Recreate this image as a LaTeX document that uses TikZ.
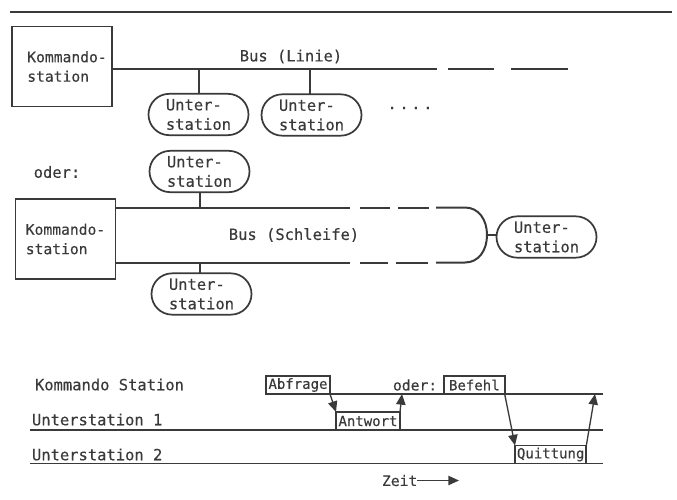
\documentclass[tikz,border=0pt]{standalone}
\usepackage{fontspec}
\setmainfont{DejaVu Sans Mono}[FakeBold=0.3]
\usetikzlibrary{shapes.misc,arrows.meta}
\definecolor{ink}{HTML}{3A3A3A}
\tikzset{
  x=0.75pt,y=-0.75pt,
  wire/.style={draw=ink,line width=1.5pt},
  thin wire/.style={draw=ink,line width=1.2pt},
  flow/.style={draw=ink,line width=1pt,-{Triangle[length=8pt,width=7pt]}},
  lbl/.style={text=ink,font=\fontsize{11.6pt}{14.6pt}\selectfont,inner sep=0pt,outer sep=0pt},
  station/.style={lbl,draw=ink,line width=1.3pt,rounded rectangle,rounded rectangle arc length=180,minimum width=75pt,minimum height=31pt,align=left},
  master/.style={lbl,draw=ink,line width=1.3pt,minimum width=75pt,minimum height=60pt,align=left,font=\fontsize{11pt}{14.6pt}\selectfont},
  msg/.style={lbl,draw=ink,line width=1.3pt,minimum height=13.5pt,font=\fontsize{10.5pt}{12pt}\selectfont},
}
\begin{document}
\begin{tikzpicture}
\useasboundingbox (0,0) rectangle (677,499);
% top rule
\coordinate (ruleL) at (10,12);
\coordinate (ruleR) at (672,12);
\draw[thin wire] (ruleL) -- (ruleR);
% Bus (Linie)
\node[master] (k1) at (62,66.5) {\hspace*{7.5pt}Kommando-\\\hspace*{7.5pt}station};
\node[station] (u1) at (198.5,114.5) {Unter-\\station};
\node[station] (u2) at (311.5,115) {Unter-\\station};
\coordinate (j1) at (198.5,69);
\coordinate (j2) at (310,69);
\coordinate (b1) at (437,69);
\coordinate (b2) at (448,69);
\coordinate (b3) at (494,69);
\coordinate (b4) at (511,69);
\coordinate (b5) at (568,69);
\draw[wire] (k1.east |- j1) -- (b1) (b2) -- (b3) (b4) -- (b5);
\draw[wire] (j1) -- (u1.north);
\draw[wire] (j2) -- (j2 |- u2.north);
\node[lbl] (busl) at (291,56.5) {Bus (Linie)};
\node[lbl] (dots) at (410,108) {.\,.\,.\,.};
% Bus (Schleife)
\node[lbl] (oder1) at (57,172) {oder:};
\node[station] (u3) at (199.5,171.5) {Unter-\\station};
\node[master] (k2) at (65.5,239) {Kommando-\\station};
\node[station] (u4) at (201.5,294) {Unter-\\station};
\node[station] (u5) at (546.5,237) {Unter-\\station};
\node[lbl] (busS) at (294,235) {Bus (Schleife)};
\coordinate (t0) at (200,207.5);
\coordinate (t1) at (350,207.5);
\coordinate (t2) at (360,207.5);
\coordinate (t3) at (390,207.5);
\coordinate (t4) at (398,207.5);
\coordinate (t5) at (429,207.5);
\coordinate (t6) at (436,207.5);
\coordinate (t7) at (465,207.5);
\coordinate (m) at (487,235);
\coordinate (s0) at (200,262.5);
\coordinate (s1) at (350,262.5);
\coordinate (s2) at (360,262.5);
\coordinate (s3) at (388,262.5);
\coordinate (s4) at (396,262.5);
\coordinate (s5) at (428,262.5);
\coordinate (s6) at (436,262.5);
\coordinate (s7) at (465,262.5);
\draw[wire] (k2.east |- t0) -- (t1) (t2) -- (t3) (t4) -- (t5);
\draw[wire] (t6) -- (t7) .. controls (479,207.5) and (487,220) .. (m)
  .. controls (487,250) and (479,262.5) .. (s7) -- (s6);
\draw[wire] (s5) -- (s4) (s3) -- (s2) (s1) -- (k2.east |- s0);
\draw[wire] (t0) -- (u3.south -| t0);
\draw[wire] (s0) -- (u4.north -| s0);
\draw[wire] (m) -- (u5.west |- m);
% timing diagram
\node[lbl,anchor=west] (tk) at (35,384.5) {Kommando Station};
\node[lbl,anchor=west] (t1l) at (32,419.5) {Unterstation 1};
\node[lbl,anchor=west] (t2l) at (32,454.5) {Unterstation 2};
\coordinate (a1) at (331,394);
\coordinate (a2) at (603,394);
\coordinate (c1) at (30,430);
\coordinate (c2) at (603,430);
\coordinate (d1) at (30,463.5);
\coordinate (d2) at (603,463.5);
\draw[thin wire] (a1) -- (a2) (c1) -- (c2) (d1) -- (d2);
\node[msg,minimum width=48pt,anchor=south west] (abf) at (266,394) {Abfrage};
\node[msg,minimum width=48pt,anchor=south west] (ant) at (336,430) {Antwort};
\node[lbl,anchor=west,font=\fontsize{11pt}{14pt}\selectfont] (oder2) at (393,385) {oder:};
\node[msg,minimum width=45.5pt,anchor=south west] (bef) at (444,394) {Befehl};
\node[msg,minimum width=53.5pt,anchor=south west] (qui) at (515,463.5) {Quittung};
\draw[flow] (abf.south east) -- (ant.north west);
\draw[flow] (ant.north east) -- (a1 -| 402,0);
\draw[flow] (bef.south east) -- (qui.north west);
\draw[flow] (qui.north east) -- (a2 -| 595,0);
\node[lbl,anchor=west,font=\fontsize{11pt}{14pt}\selectfont] (zeit) at (382,480.5) {Zeit};
\coordinate (z) at (459,480.5);
\draw[flow] (zeit.east) -- (z);
\end{tikzpicture}
\end{document}
